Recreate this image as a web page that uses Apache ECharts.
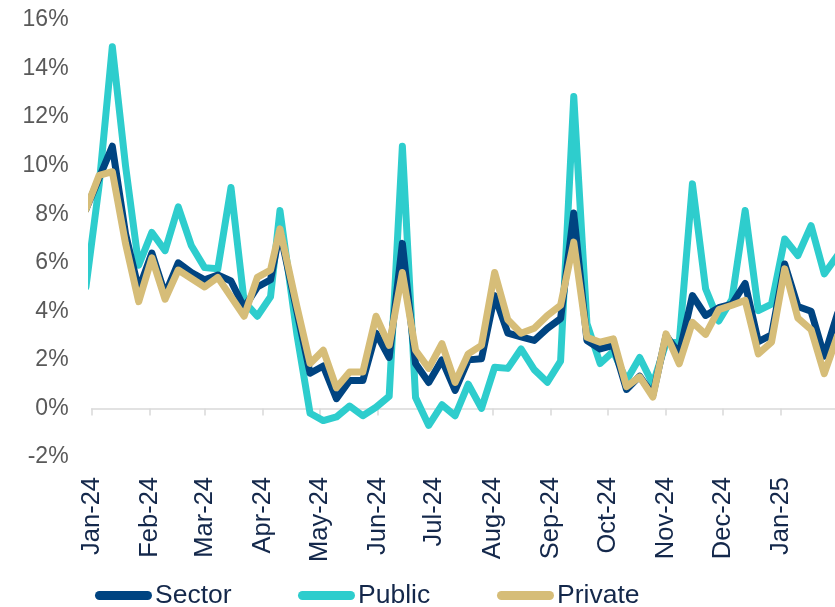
<!DOCTYPE html>
<html>
<head>
<meta charset="utf-8">
<script src="https://cdn.jsdelivr.net/npm/echarts@6/dist/echarts.min.js"></script>
<style>
  html, body { margin: 0; padding: 0; background: #ffffff; }
  #chart { width: 835px; height: 607px; }
</style>
</head>
<body>
<div id="chart"></div>
<script>
const dates = [
  '2023-12-29','2024-01-05','2024-01-12','2024-01-19','2024-01-26','2024-02-02','2024-02-09','2024-02-16',
  '2024-02-23','2024-03-01','2024-03-08','2024-03-15','2024-03-22','2024-03-29','2024-04-05','2024-04-10',
  '2024-04-19','2024-04-26','2024-05-03','2024-05-10','2024-05-17','2024-05-24','2024-05-31','2024-06-07',
  '2024-06-14','2024-06-21','2024-06-28','2024-07-05','2024-07-12','2024-07-19','2024-07-26','2024-08-02',
  '2024-08-09','2024-08-16','2024-08-23','2024-08-30','2024-09-06','2024-09-13','2024-09-20','2024-09-27',
  '2024-10-04','2024-10-11','2024-10-18','2024-10-25','2024-11-01','2024-11-08','2024-11-15','2024-11-22',
  '2024-11-29','2024-12-06','2024-12-13','2024-12-20','2024-12-27','2025-01-03','2025-01-10','2025-01-17',
  '2025-01-24','2025-01-31'
];
const sector = [
  8.2, 9.5, 10.8, 7.2, 4.9, 6.4, 4.7, 6.0, 5.6, 5.3, 5.5, 5.25, 4.15, 5.0, 5.3, 7.3,
  4.0, 1.45, 1.75, 0.4, 1.15, 1.15, 3.1, 2.1, 6.8, 1.85, 1.07, 2.0, 0.74, 2.0, 2.05, 4.65,
  3.1, 2.95, 2.8, 3.3, 3.7, 8.05, 2.8, 2.45, 2.6, 0.78, 1.33, 0.55, 3.0, 2.26, 4.65, 3.83,
  4.15, 4.3, 5.15, 2.75, 3.03, 5.95, 4.2, 4.0, 2.15, 3.9
];
const publicSeries = [
  5.0, 9.2, 14.9, 10.0, 5.9, 7.25, 6.5, 8.3, 6.7, 5.8, 5.75, 9.1, 4.4, 3.8, 4.6, 8.15,
  3.05, -0.2, -0.5, -0.35, 0.1, -0.3, 0.05, 0.5, 10.8, 0.45, -0.7, 0.15, -0.3, 1.0, 0.0, 1.7,
  1.65, 2.45, 1.6, 1.08, 1.95, 12.85, 3.5, 1.85, 2.35, 1.15, 2.1, 1.0, 2.7, 2.73, 9.25, 4.93,
  3.6, 4.5, 8.15, 4.03, 4.3, 6.98, 6.3, 7.53, 5.54, 6.3
];
const privateSeries = [
  8.2, 9.6, 9.75, 6.8, 4.4, 6.2, 4.5, 5.7, 5.35, 5.0, 5.4, 4.6, 3.8, 5.4, 5.7, 7.4,
  4.2, 1.85, 2.4, 0.85, 1.5, 1.5, 3.8, 2.6, 5.6, 2.4, 1.65, 2.67, 1.07, 2.25, 2.6, 5.6,
  3.65, 3.1, 3.3, 3.83, 4.25, 6.85, 2.93, 2.73, 2.87, 0.9, 1.3, 0.47, 3.07, 1.84, 3.55, 3.05,
  4.07, 4.25, 4.45, 2.25, 2.73, 5.75, 3.72, 3.25, 1.43, 3.0
];
const monthStarts = [
  '2024-01-01','2024-02-01','2024-03-01','2024-04-01','2024-05-01','2024-06-01','2024-07-01',
  '2024-08-01','2024-09-01','2024-10-01','2024-11-01','2024-12-01','2025-01-01'
];
const monthLabels = ['Jan-24','Feb-24','Mar-24','Apr-24','May-24','Jun-24','Jul-24','Aug-24','Sep-24','Oct-24','Nov-24','Dec-24','Jan-25'];
const yMin = -2, yMax = 16, yInterval = 2;

function dayOffset(s) {
  const p = s.split('-').map(Number);
  return (Date.UTC(p[0], p[1] - 1, p[2]) - Date.UTC(2024, 0, 1)) / 86400000;
}
const monthTicks = monthStarts.map(dayOffset);
const xMin = 0, xMax = 394.7;
function pairs(vals) { return dates.map((d, i) => [dayOffset(d), vals[i]]); }
function labelFor(v) {
  const i = monthTicks.findIndex(t => Math.abs(t - v) < 0.01);
  return i >= 0 ? monthLabels[i] : '';
}

const navy = '#004481', teal = '#2ECDCD', tan = '#D6BD78';
const textNavy = '#14284B';
const capsule = 'path://M4.5,0 L52.5,0 A4.5,4.5 0 0 1 52.5,9 L4.5,9 A4.5,4.5 0 0 1 4.5,0 Z';
const font = 'Liberation Sans, Arial, sans-serif';

function legendAt(name, left) {
  return {
    data: [name], left: left, top: 582, padding: 0, orient: 'horizontal',
    itemWidth: 57, itemHeight: 9, icon: capsule,
    textStyle: { fontSize: 26.5, color: textNavy, fontFamily: font, padding: [0, 0, 0, -2] }
  };
}
function lineSeries(name, vals, color, z) {
  return {
    name: name, type: 'line', xAxisIndex: 0, yAxisIndex: 0, data: pairs(vals),
    showSymbol: false, symbol: 'none', clip: true, z: z,
    lineStyle: { color: color, width: 7, cap: 'round', join: 'round' },
    itemStyle: { color: color }
  };
}

const chart = echarts.init(document.getElementById('chart'), null, { renderer: 'canvas' });
chart.setOption({
  animation: false,
  backgroundColor: '#ffffff',
  textStyle: { fontFamily: font },
  grid: { left: 91.6, right: 0, top: 20, bottom: 150, containLabel: false },
  xAxis: [
    {
      type: 'value', min: xMin, max: xMax, position: 'bottom',
      axisLine: { show: true, onZero: true, lineStyle: { color: '#d9d9d9', width: 1.5 } },
      axisTick: { show: true, customValues: monthTicks, length: 7, lineStyle: { color: '#d9d9d9', width: 1.5 } },
      axisLabel: { show: false },
      splitLine: { show: false }
    },
    {
      type: 'value', min: xMin, max: xMax, position: 'bottom',
      axisLine: { show: false, onZero: false },
      axisTick: { show: false },
      axisLabel: {
        show: true, customValues: monthTicks, rotate: 90, margin: 20,
        fontSize: 25.5, color: textNavy, fontFamily: font, formatter: labelFor
      },
      splitLine: { show: false }
    }
  ],
  yAxis: {
    type: 'value', min: yMin, max: yMax, interval: yInterval,
    axisLine: { show: false }, axisTick: { show: false }, splitLine: { show: false },
    axisLabel: { formatter: '{value}%', fontSize: 23, color: '#595959', margin: 23, fontFamily: font }
  },
  legend: [legendAt('Sector', 95), legendAt('Public', 298), legendAt('Private', 497)],
  series: [
    lineSeries('Sector', sector, navy, 3),
    lineSeries('Public', publicSeries, teal, 2),
    lineSeries('Private', privateSeries, tan, 4)
  ]
});
</script>
</body>
</html>
